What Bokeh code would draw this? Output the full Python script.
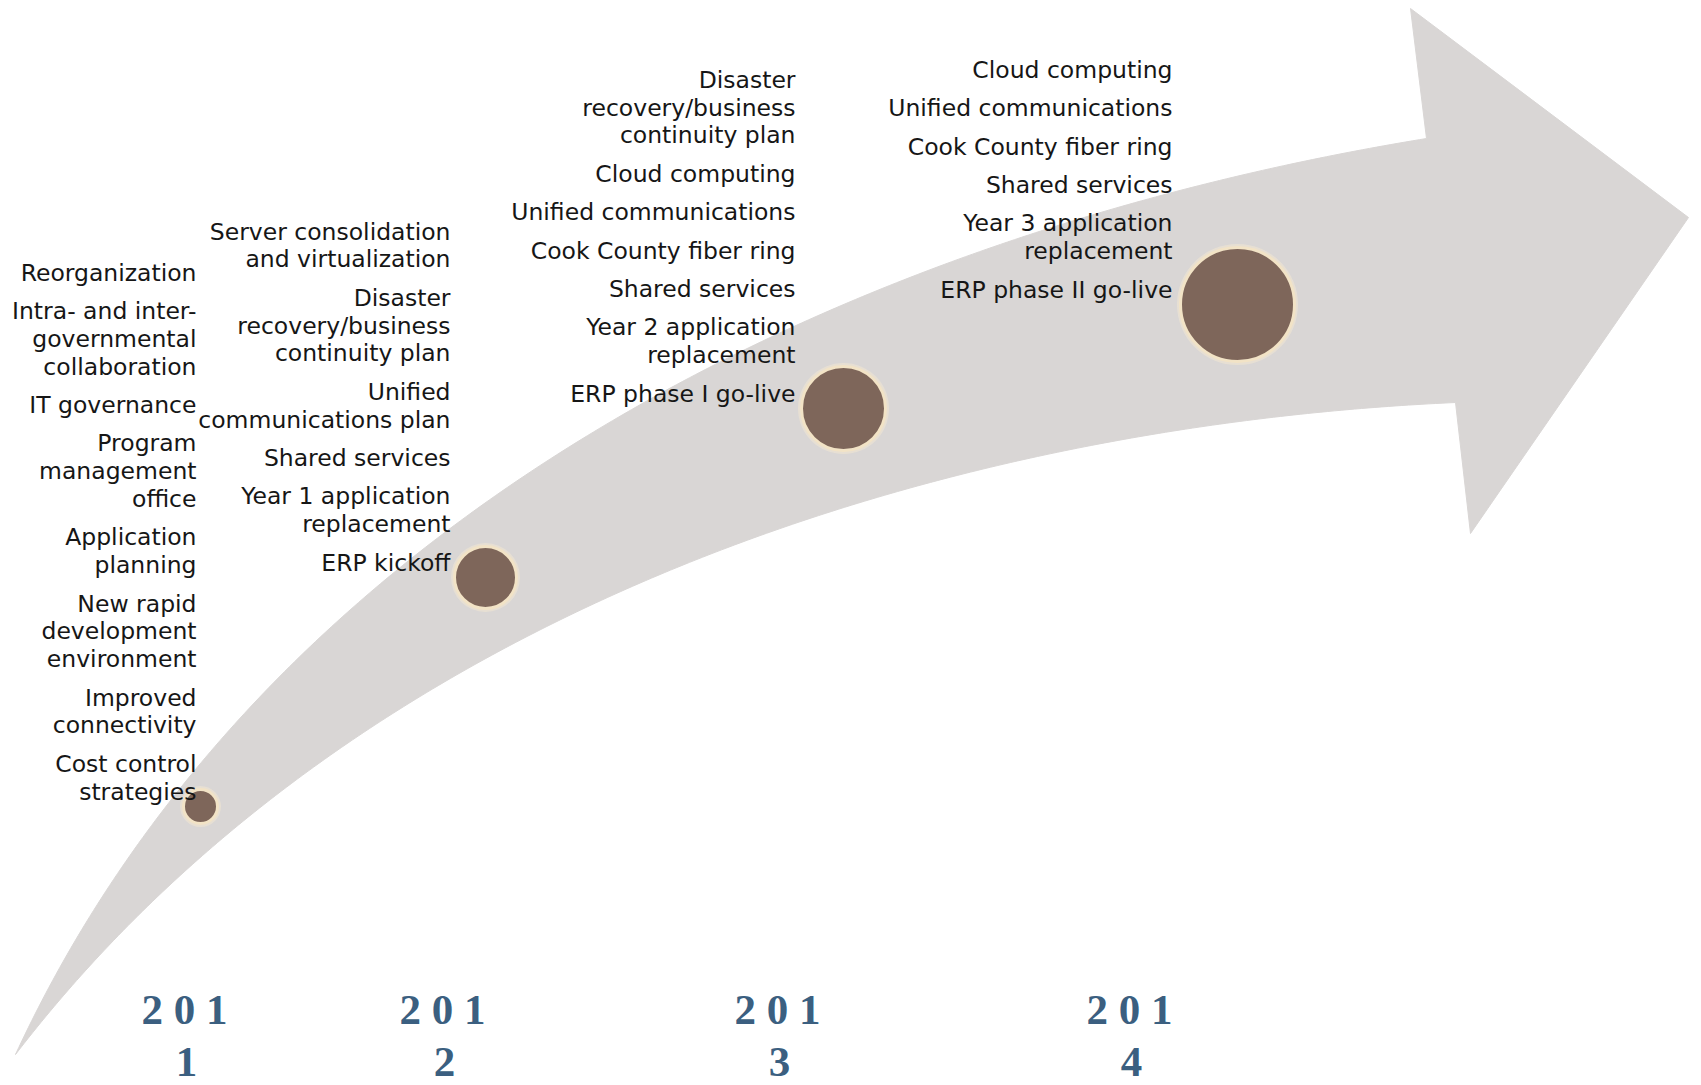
import numpy as np
from bokeh.plotting import figure
from bokeh.models import Range1d, ColumnDataSource
from bokeh.core.properties import value
from bokeh.embed import file_html
from bokeh.resources import INLINE

# ---------------- data ----------------
years = ["2011", "2012", "2013", "2014"]

items_2011 = ["Reorganization",
              "Intra- and inter-\ngovernmental\ncollaboration",
              "IT governance",
              "Program\nmanagement\noffice",
              "Application\nplanning",
              "New rapid\ndevelopment\nenvironment",
              "Improved\nconnectivity",
              "Cost control\nstrategies"]
items_2012 = ["Server consolidation\nand virtualization",
              "Disaster\nrecovery/business\ncontinuity plan",
              "Unified\ncommunications plan",
              "Shared services",
              "Year 1 application\nreplacement",
              "ERP kickoff"]
items_2013 = ["Disaster\nrecovery/business\ncontinuity plan",
              "Cloud computing",
              "Unified communications",
              "Cook County fiber ring",
              "Shared services",
              "Year 2 application\nreplacement",
              "ERP phase I go-live"]
items_2014 = ["Cloud computing",
              "Unified communications",
              "Cook County fiber ring",
              "Shared services",
              "Year 3 application\nreplacement",
              "ERP phase II go-live"]

# milestone circles (pixel coordinates)
milestone_x = [200, 485, 843, 1237]
milestone_y = [806, 577, 408, 304]
milestone_r = [17, 31, 42, 57]

# arrow outline points
arrow_upper_x = [15, 73, 126, 172, 214, 276, 330, 383, 450, 550, 615, 700, 795, 880, 933, 1040, 1100, 1180, 1250, 1426]
arrow_upper_y = [1054, 939, 863, 805, 750, 675, 625, 585, 530, 455, 412, 370, 322, 287, 266, 230, 218, 196, 180, 138]
arrow_head_x = [1410, 1688, 1470]
arrow_head_y = [8, 217, 533]
arrow_lower_x = [15, 57, 96, 191, 287, 450, 550, 600, 673, 741, 933, 1150, 1300, 1455]
arrow_lower_y = [1054, 997, 945, 863, 793, 677, 625, 604, 567, 538, 483, 433, 415, 402]

# ---------------- layout ----------------
W, H = 1701, 1085
col_right = [196, 450, 795, 1172]
col_last_baseline = [791, 562, 393, 289]
year_center_x = [184, 442, 777, 1129]
year_line_y = [1009, 1061]
LINE = 27.8
ITEM = 38.4


def fit_bezier(xs, ys, n=240):
    pts = np.column_stack([xs, ys]).astype(float)
    d = np.r_[0, np.cumsum(np.hypot(*np.diff(pts, axis=0).T))]
    t = d / d[-1]
    b0 = (1 - t) ** 3
    b1 = 3 * (1 - t) ** 2 * t
    b2 = 3 * (1 - t) * t ** 2
    b3 = t ** 3
    A = np.column_stack([b1, b2])
    rhs = pts - np.outer(b0, pts[0]) - np.outer(b3, pts[-1])
    ctrl, *_ = np.linalg.lstsq(A, rhs, rcond=None)
    P = np.vstack([pts[0], ctrl, pts[-1]])
    s = np.linspace(0, 1, n)
    M = np.column_stack([(1 - s) ** 3, 3 * (1 - s) ** 2 * s, 3 * (1 - s) * s ** 2, s ** 3])
    B = M @ P
    return B[:, 0], B[:, 1]


ux, uy = fit_bezier(arrow_upper_x, arrow_upper_y)
lx, ly = fit_bezier(arrow_lower_x, arrow_lower_y)
patch_x = list(ux) + arrow_head_x + list(lx[::-1])
patch_y = list(uy) + arrow_head_y + list(ly[::-1])

p = figure(width=W, height=H,
           x_range=Range1d(0, W), y_range=Range1d(H, 0),
           output_backend="svg", toolbar_location=None, min_border=0)
p.axis.visible = False
p.grid.visible = False
p.outline_line_color = None
p.background_fill_color = "white"
p.border_fill_color = "white"

p.patch(patch_x, patch_y, fill_color="#d9d6d5", line_color="#d9d6d5", line_width=1)

# glow + circles
p.circle(milestone_x, milestone_y, radius=[r + 3.5 for r in milestone_r],
         fill_color="#f3e7d2", fill_alpha=0.55, line_color=None)
p.circle(milestone_x, milestone_y, radius=milestone_r,
         fill_color="#7e665a", line_color="#f2e3c6", line_width=3)

# text columns
tx, ty, tt = [], [], []
for items, rx, base in zip([items_2011, items_2012, items_2013, items_2014], col_right, col_last_baseline):
    y = base
    for item in reversed(items):
        lines = item.split("\n")
        for j, line in enumerate(reversed(lines)):
            tx.append(rx)
            ty.append(y)
            tt.append(line)
            if j < len(lines) - 1:
                y -= LINE
        y -= ITEM

src = ColumnDataSource(dict(x=tx, y=ty, text=tt))
p.text("x", "y", "text", source=src, text_align="right", text_baseline="alphabetic",
       text_font=value("DejaVu Sans"), text_font_size=value("23.5px"), text_color="#161616")

# year labels
yx, yy, yt = [], [], []
for yr, cx in zip(years, year_center_x):
    yx += [cx, cx + 2]
    yy += year_line_y
    yt += [" ".join(yr[:3]), yr[3]]
p.text(yx, yy, yt, text_align="center", text_baseline="alphabetic",
       text_font=value("Liberation Serif"), text_font_style="bold",
       text_font_size=value("43px"), text_color="#3b5f80")

open("out.html", "w").write(file_html(p, INLINE))
